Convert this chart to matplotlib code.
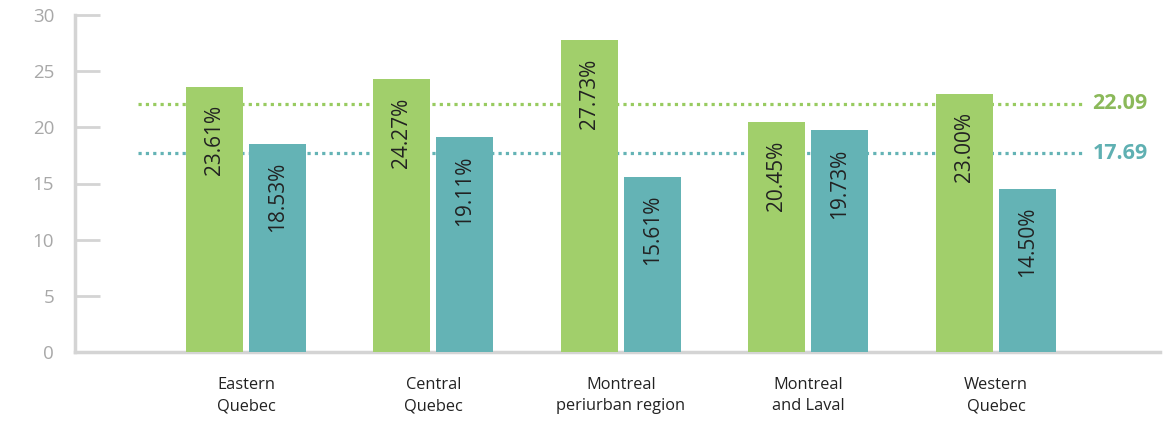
import matplotlib.pyplot as plt
import numpy as np

plt.rcParams['font.family'] = ['Open Sans', 'DejaVu Sans']

regions = ['Eastern\nQuebec', 'Central\nQuebec', 'Montreal\nperiurban region',
           'Montreal\nand Laval', 'Western\nQuebec']
green_vals = [23.61, 24.27, 27.73, 20.45, 23.00]
teal_vals = [18.53, 19.11, 15.61, 19.73, 14.50]
green_avg = 22.09
teal_avg = 17.69
y_ticks = [0, 5, 10, 15, 20, 25, 30]

green = '#a1cf6b'
teal = '#64b3b5'
green_txt = '#8bb95a'
teal_txt = '#5fb0b2'
grey = '#d4d4d4'

fig = plt.figure(figsize=(11.63, 4.26), dpi=100)
ax = fig.add_axes([75 / 1163, 1 - 352 / 426, (1160 - 75) / 1163, (352 - 15) / 426])

x = np.arange(len(regions))
width = 0.304
off = 0.168

ax.bar(x - off, green_vals, width, color=green, zorder=3)
ax.bar(x + off, teal_vals, width, color=teal, zorder=3)

for xi, g, t in zip(x, green_vals, teal_vals):
    ax.text(xi - off, g - 1.6, f'{g:.2f}%', rotation=90, ha='center', va='top',
            fontsize=15, color='#222222', zorder=4)
    ax.text(xi + off, t - 1.6, f'{t:.2f}%', rotation=90, ha='center', va='top',
            fontsize=15, color='#222222', zorder=4)

# average lines
x0, x1 = -0.576, 4.475
ax.plot([x0, x1], [green_avg, green_avg], color='#98cb60', lw=2.3,
        linestyle=(0, (1, 1.3)), zorder=2, dash_capstyle='butt')
ax.plot([x0, x1], [teal_avg, teal_avg], color=teal, lw=2.3,
        linestyle=(0, (1, 1.3)), zorder=2, dash_capstyle='butt')
ax.text(4.515, green_avg, f'{green_avg:.2f}', color=green_txt, fontsize=15.5,
        fontweight='bold', va='center', ha='left')
ax.text(4.515, teal_avg, f'{teal_avg:.2f}', color=teal_txt, fontsize=15.5,
        fontweight='bold', va='center', ha='left')

ax.set_xlim(-0.912, 4.875)
ax.set_ylim(0, 30)
ax.set_yticks(y_ticks)
ax.set_yticklabels([str(v) for v in y_ticks], color='#a8a8a8', fontsize=13.5)
ax.tick_params(axis='y', direction='in', length=18, width=2, color=grey, pad=15)
ax.set_xticks(x)
ax.set_xticklabels(regions, fontsize=11.8, color='#222222', linespacing=1.45)
ax.tick_params(axis='x', length=0, pad=18)

for s in ['top', 'right']:
    ax.spines[s].set_visible(False)
for s in ['left', 'bottom']:
    ax.spines[s].set_color(grey)
    ax.spines[s].set_linewidth(2.5)

fig.savefig('out.png', dpi=100)
